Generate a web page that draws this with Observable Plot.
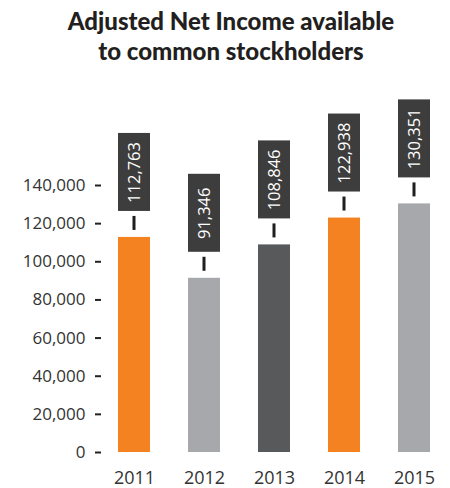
<!DOCTYPE html>
<html>
<head>
<meta charset="utf-8">
<script src="https://cdn.jsdelivr.net/npm/d3@7"></script>
<script src="https://cdn.jsdelivr.net/npm/@observablehq/plot@0.6"></script>
<style>
  html, body { margin: 0; padding: 0; background: #fff; }
  #title {
    width: 450px; height: 80px; box-sizing: border-box;
    padding: 6px 0 0 12px; text-align: center;
    font-family: "Lato", sans-serif; font-weight: 900; font-size: 24px;
    line-height: 30px; color: #231f20;
  }
</style>
</head>
<body>
<div id="title">Adjusted Net Income available<br>to common stockholders</div>
<div id="chart"></div>
<script>
const years = ["2011", "2012", "2013", "2014", "2015"];
const values = [112763, 91346, 108846, 122938, 130351];
const barColors = ["#f58220", "#a7a8ab", "#58595b", "#f58220", "#a7a8ab"];
const yTicks = [0, 20000, 40000, 60000, 80000, 100000, 120000, 140000];

const data = years.map((year, i) => ({year, value: values[i], color: barColors[i]}));
const fmt = d3.format(",");

const chart = Plot.plot({
  width: 450,
  height: 408,
  marginTop: 105,
  marginBottom: 36,
  marginLeft: 101,
  marginRight: 19,
  style: {fontFamily: "Open Sans, sans-serif", fontSize: "17px", color: "#333", background: "#fff"},
  x: {domain: years, padding: 0.548, paddingOuter: 0, insetLeft: 15, label: null},
  y: {domain: [0, 140000], ticks: yTicks, label: null},
  marks: [
    Plot.barY(data, {x: "year", y: "value", fill: "color"}),
    Plot.barY(data, {x: "year", y1: "value", y2: "value", insetTop: -78, dy: -26, fill: "#3d3d3d"}),
    Plot.barY(data, {x: "year", y1: "value", y2: "value", insetTop: -14, dy: -7, insetLeft: 14.5, insetRight: 14.5, fill: "#1f1f1f"}),
    Plot.text(data, {x: "year", y: "value", text: d => fmt(d.value), rotate: -90, dy: -65, fill: "#fff", fontSize: 16.5}),
    Plot.axisY({ticks: yTicks, tickFormat: fmt, tickSize: 6, tickPadding: 10, strokeWidth: 2, stroke: "#222", fill: "#333", label: null}),
    Plot.axisX({tickSize: 0, tickPadding: 19, fill: "#333", fontSize: 18, label: null})
  ]
});
document.getElementById("chart").appendChild(chart);
</script>
</body>
</html>
